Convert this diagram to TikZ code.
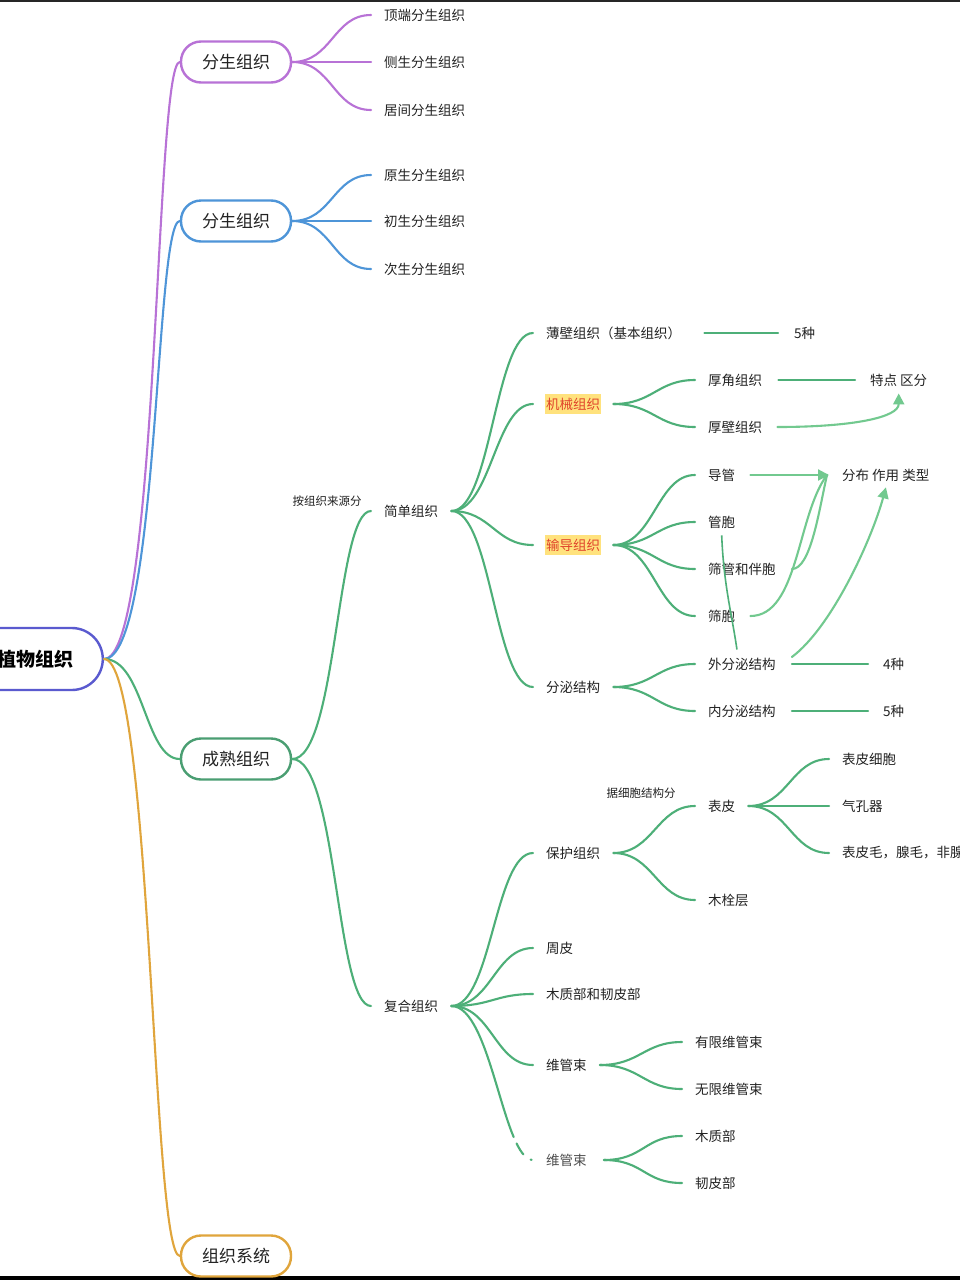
\documentclass[tikz,border=0pt]{standalone}
\usepackage{fontspec}
\newfontfamily\cjk{Noto Sans CJK SC}
\usetikzlibrary{arrows.meta}
\definecolor{txt}{HTML}{222222}
\definecolor{cpur}{HTML}{B872D6}
\definecolor{cblu}{HTML}{4E95D8}
\definecolor{cgrn}{HTML}{4DAF78}
\definecolor{cgrnb}{HTML}{4A9E72}
\definecolor{corg}{HTML}{E0A53C}
\definecolor{croot}{HTML}{5A5ACF}
\definecolor{carr}{HTML}{72C98F}
\definecolor{hlfill}{HTML}{FFE27D}
\definecolor{hltext}{HTML}{E0432B}
\begin{document}
\begin{tikzpicture}[x=1pt,y=-1pt,
 pill/.style={draw, line width=2.4pt, rounded corners=20pt, minimum width=110pt, minimum height=41pt, inner sep=0pt, fill=white, text=txt, font=\cjk\fontsize{17}{17}\selectfont},
 leaf/.style={anchor=west, inner xsep=13pt, inner ysep=3pt, text=txt, font=\cjk\fontsize{13.5}{14}\selectfont},
 hlbox/.style={anchor=west, inner xsep=1pt, inner ysep=4pt, fill=hlfill, text=hltext, font=\cjk\fontsize{13.5}{14}\selectfont},
 note/.style={inner sep=1pt, text=txt, font=\cjk\fontsize{11.5}{12}\selectfont},
 br/.style={line width=2.1pt, line cap=round},
 gl/.style={br, draw=cgrn},
 al/.style={line width=2.1pt, draw=carr, line cap=round},
 arrtip/.style={-{Triangle[length=11pt,width=11pt]}, carr},
]
\fill[white] (0,0) rectangle (960,1280);
\useasboundingbox (0,0) rectangle (960,1280);
\clip (0,0) rectangle (960,1280);
\fill[black!85] (0,0) rectangle (960,2);
\fill[black] (0,1276) rectangle (960,1280);

% root
\node[draw=croot, line width=2.4pt, rounded corners=31pt, minimum height=62pt, inner xsep=29pt, anchor=east, fill=white, text=black, font=\cjk\bfseries\fontsize{19}{19}\selectfont] (root) at (104,659) {植物组织};

% level 1
\node[pill, draw=cpur] (p1) at (236,62) {分生组织};
\node[pill, draw=cblu] (p2) at (236,221) {分生组织};
\node[pill, draw=cgrnb] (p3) at (236,759) {成熟组织};
\node[pill, draw=corg] (p4) at (236,1256) {组织系统};

\draw[br, cpur] (root.east) .. controls +(55,0) and +(-25,0) .. (p1.west);
\draw[br, cblu] (root.east) .. controls +(55,0) and +(-25,0) .. (p2.west);
\draw[br, cgrn] (root.east) .. controls +(40,0) and +(-35,0) .. (p3.west);
\draw[br, corg] (root.east) .. controls +(48,0) and +(-28,0) .. (p4.west);

% purple leaves
\node[leaf] (a1) at (371,15) {顶端分生组织};
\node[leaf] (a2) at (371,62) {侧生分生组织};
\node[leaf] (a3) at (371,110) {居间分生组织};
\foreach \c in {a1,a2,a3} \draw[br, cpur] (p1.east) .. controls +(40,0) and +(-38,0) .. (\c.west);

% blue leaves
\node[leaf] (b1) at (371,175) {原生分生组织};
\node[leaf] (b2) at (371,221) {初生分生组织};
\node[leaf] (b3) at (371,269) {次生分生组织};
\foreach \c in {b1,b2,b3} \draw[br, cblu] (p2.east) .. controls +(40,0) and +(-38,0) .. (\c.west);

% mature tissue
\node[leaf] (jd) at (371,511) {简单组织};
\node[leaf] (fh) at (371,1006) {复合组织};
\node[note] (n1) at (327,501) {按组织来源分};
\foreach \c in {jd,fh} \draw[gl] (p3.east) .. controls +(45,0) and +(-35,0) .. (\c.west);

% simple tissue children
\node[leaf] (bb) at (533,333) {薄壁组织（基本组织）};
\node[leaf] (bb5) at (781,333) {5种};
\node[hlbox] (jx) at (545,404) {机械组织};
\node[hlbox] (sd) at (545,545) {输导组织};
\node[leaf] (fm) at (533,687) {分泌结构};
\draw[gl] (jd.east) .. controls +(40,0) and +(-38,0) .. (bb.west);
\draw[gl] (jd.east) .. controls +(40,0) and +(-38,0) .. ([xshift=-12pt]jx.west);
\draw[gl] (jd.east) .. controls +(40,0) and +(-38,0) .. ([xshift=-12pt]sd.west);
\draw[gl] (jd.east) .. controls +(40,0) and +(-38,0) .. (fm.west);
\draw[gl, shorten <=10pt, shorten >=3pt] (bb.east) -- (bb5.west);

% mechanical
\node[leaf] (hj) at (695,380) {厚角组织};
\node[leaf] (hb) at (695,427) {厚壁组织};
\node[leaf] (td) at (857,380) {特点 区分};
\foreach \c in {hj,hb} \draw[gl] ([xshift=12pt]jx.east) .. controls +(40,0) and +(-38,0) .. (\c.west);
\draw[gl, shorten <=3pt, shorten >=2pt] (hj.east) -- (td.west);
\draw[al, arrtip, shorten >=4pt] ([xshift=2pt]hb.east) .. controls +(75,0) and +(0,28) .. (td.south);

% conducting
\node[leaf] (dg) at (695,475) {导管};
\node[leaf] (gb) at (695,522) {管胞};
\node[leaf] (sg) at (695,569) {筛管和伴胞};
\node[leaf] (sb) at (695,616) {筛胞};
\node[leaf] (fb) at (829,475) {分布 作用 类型};
\foreach \c in {dg,gb,sg,sb} \draw[gl] ([xshift=12pt]sd.east) .. controls +(40,0) and +(-38,0) .. (\c.west);
\draw[al, arrtip, shorten <=2pt] (dg.east) -- (fb.west);
\draw[al, shorten <=3pt] (sg.east) .. controls +(22,0) and +(-8,35) .. ([xshift=-2pt]fb.west);
\draw[al, shorten <=2pt] (sb.east) .. controls +(50,0) and +(-30,40) .. ([xshift=-2pt]fb.west);

% secretory
\node[leaf] (wf) at (695,664) {外分泌结构};
\node[leaf] (nf) at (695,711) {内分泌结构};
\node[leaf] (w4) at (870,664) {4种};
\node[leaf] (n5) at (870,711) {5种};
\foreach \c in {wf,nf} \draw[gl] (fm.east) .. controls +(40,0) and +(-38,0) .. (\c.west);
\draw[gl, shorten <=3pt, shorten >=2pt] (wf.east) -- (w4.west);
\draw[gl, shorten <=3pt, shorten >=2pt] (nf.east) -- (n5.west);
\draw[al, arrtip, shorten >=3pt] ([xshift=3pt,yshift=7pt]wf.east) .. controls +(40,-30) and +(-15,55) .. ([xshift=1pt]fb.south);
\draw[line width=1.6pt, draw=cgrn] ([yshift=-4pt]gb.south) .. controls +(2,50) and +(-5,-35) .. ([xshift=-5pt,yshift=5pt]wf.north);

% compound tissue
\node[leaf] (bh) at (533,853) {保护组织};
\node[leaf] (zp) at (533,948) {周皮};
\node[leaf] (mz) at (533,994) {木质部和韧皮部};
\node[leaf] (wg) at (533,1065) {维管束};
\node[leaf, text=txt!80] (wg2) at (533,1160) {维管束};
\foreach \c in {bh,zp,mz,wg} \draw[gl] (fh.east) .. controls +(40,0) and +(-38,0) .. (\c.west);
\draw[gl, dash pattern=on 150pt off 7pt on 13pt off 9pt on 1pt off 40pt] (fh.east) .. controls +(40,0) and +(-30,0) .. (wg2.west);

% protective
\node[leaf] (bp) at (695,806) {表皮};
\node[leaf] (ms) at (695,900) {木栓层};
\node[note] (n2) at (641,793) {据细胞结构分};
\foreach \c in {bp,ms} \draw[gl] (bh.east) .. controls +(40,0) and +(-38,0) .. (\c.west);
\node[leaf] (bx) at (829,759) {表皮细胞};
\node[leaf] (qk) at (829,806) {气孔器};
\node[leaf] (bm) at (829,853) {表皮毛，腺毛，非腺毛};
\foreach \c in {bx,qk,bm} \draw[gl] (bp.east) .. controls +(40,0) and +(-38,0) .. (\c.west);

% vascular bundles
\node[leaf] (yx) at (682,1042) {有限维管束};
\node[leaf] (wx) at (682,1089) {无限维管束};
\foreach \c in {yx,wx} \draw[gl] (wg.east) .. controls +(40,0) and +(-38,0) .. (\c.west);
\node[leaf] (mzb) at (682,1136) {木质部};
\node[leaf] (rpb) at (682,1183) {韧皮部};
\foreach \c in {mzb,rpb} \draw[gl] ([xshift=4pt]wg2.east) .. controls +(40,0) and +(-38,0) .. (\c.west);
\end{tikzpicture}
\end{document}
